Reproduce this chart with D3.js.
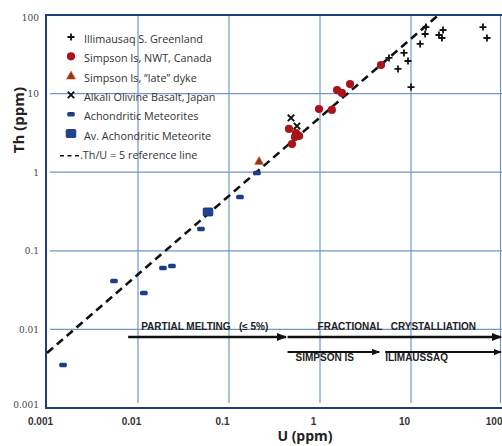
<!DOCTYPE html>
<html>
<head>
<meta charset="utf-8">
<script src="https://cdn.jsdelivr.net/npm/d3@7"></script>
<style>
  body { margin: 0; background: #fff; }
  svg { display: block; }
  .note { white-space: pre; }
</style>
</head>
<body>
<div id="chart"></div>
<script>
// decades on both axes
var ticks = [0.001, 0.01, 0.1, 1, 10, 100];
var tickLabels = ["0.001", "0.01", "0.1", "1", "10", "100"];

// Illimausaq S. Greenland
var ilimU  = [5.73, 7.2, 8.37, 9.27, 10.0, 12.6, 14.3, 14.6, 20.3, 21.9, 22.5, 61.8, 68.4];
var ilimTh = [28.4, 20.6, 32.9, 26.0, 12.1, 42.8, 57.3, 70.3, 55.7, 51.0, 64.4, 70.3, 51.0];
// Simpson Is, NWT, Canada
var simpU  = [0.456, 0.492, 0.531, 0.588, 0.545, 0.975, 1.35, 1.54, 1.74, 2.14, 4.68];
var simpTh = [3.55, 2.28, 2.80, 2.89, 3.15, 6.37, 6.19, 11.1, 10.2, 13.2, 23.1];
// Simpson Is, "late" dyke
var dykeU = [0.214], dykeTh = [1.39];
// Alkali Olivine Basalt, Japan
var basaltU = [0.48, 0.558], basaltTh = [4.90, 3.87];
// Achondritic meteorites
var achU  = [0.0015, 0.00545, 0.0116, 0.0188, 0.0236, 0.0492, 0.132, 0.203];
var achTh = [0.00352, 0.0413, 0.029, 0.0604, 0.064, 0.189, 0.483, 0.977];
// Av. achondritic meteorite
var avU = [0.0588], avTh = [0.312];
// reference line Th/U = 5
var refU = [0.001, 20];
var refRatio = 5;

// process arrows: [label, U from, U to, Th level, label above?]
var arrows = [
  ["PARTIAL MELTING   (\u2264 5%)", 0.0078, 0.434, 0.008, true],
  ["FRACTIONAL   CRYSTALLIATION", 0.44, 100, 0.008, true],
  ["SIMPSON IS", 0.44, 4.6, 0.00515, false],
  ["ILIMAUSSAQ", 5.2, 100, 0.00515, false]
];

var legendLabels = ["Illimausaq S. Greenland", "Simpson Is, NWT, Canada", "Simpson Is, \u201Clate\u201D dyke",
  "Alkali Olivine Basalt, Japan", "Achondritic Meteorites", "Av. Achondritic Meteorite", ".Th/U = 5 reference line"];
var legendKinds = ["plus", "circle", "tri", "x", "rect", "square", "dash"];

var width = 502, height = 446;
var gridColor = "#7396c4", frameColor = "#203f78";

var svg = d3.select("#chart").append("svg")
  .attr("width", width).attr("height", height);

var x = d3.scaleLog().domain([0.001, 100]).range([47, 502]);
var y = d3.scaleLog().domain([0.001, 100]).range([408, 15]);

svg.append("defs").append("marker")
  .attr("id", "head").attr("viewBox", "0 0 10 10")
  .attr("refX", 9).attr("refY", 5)
  .attr("markerWidth", 4).attr("markerHeight", 4)
  .attr("orient", "auto")
  .append("path").attr("d", "M0,1L10,5L0,9Z").attr("fill", "#111");

// grid
svg.append("g").selectAll("line").data(ticks.slice(1, 5))
  .enter().append("line")
  .attr("x1", 50).attr("x2", 502)
  .attr("y1", d => y(d)).attr("y2", d => y(d))
  .attr("stroke", gridColor).attr("stroke-width", 1.2);
svg.append("g").selectAll("line").data(ticks.slice(1))
  .enter().append("line")
  .attr("x1", d => Math.min(x(d), 500.5)).attr("x2", d => Math.min(x(d), 500.5))
  .attr("y1", 15).attr("y2", 403)
  .attr("stroke", gridColor).attr("stroke-width", 1.2);

// frame
svg.append("path")
  .attr("d", "M502,15H46V408H502")
  .attr("fill", "none").attr("stroke", frameColor).attr("stroke-width", 2);

// tick labels
var xAxis = svg.append("g")
  .attr("transform", "translate(0,415)")
  .call(d3.axisBottom(x).tickValues(ticks).tickSize(0).tickFormat((d, i) => tickLabels[i]));
xAxis.select(".domain").remove();
xAxis.selectAll("text")
  .attr("dx", (d, i) => i == 5 ? 0 : -7)
  .attr("text-anchor", (d, i) => i == 5 ? "end" : "middle")
  .attr("font-family", "Liberation Sans, Arial, sans-serif")
  .attr("font-weight", "bold").attr("font-size", 10).attr("fill", "#333");

var yAxis = svg.append("g")
  .attr("transform", "translate(42,0)")
  .call(d3.axisLeft(y).tickValues(ticks).tickSize(0).tickFormat((d, i) => tickLabels[i]));
yAxis.select(".domain").remove();
yAxis.selectAll("text")
  .attr("dy", (d, i) => i == 0 ? "-0.1em" : (i == 5 ? "0.6em" : "0.32em"))
  .attr("font-family", "DejaVu Serif, serif")
  .attr("font-size", 9).attr("fill", "#444");

// axis titles
svg.append("text").attr("x", 305).attr("y", 441)
  .attr("text-anchor", "middle")
  .attr("font-family", "Open Sans, sans-serif").attr("font-weight", "bold")
  .attr("font-size", 14).attr("fill", "#222").text("U (ppm)");
svg.append("text")
  .attr("transform", "translate(24,120) rotate(-90)")
  .attr("text-anchor", "middle")
  .attr("font-family", "Open Sans, sans-serif").attr("font-weight", "bold")
  .attr("font-size", 15).attr("fill", "#222").text("Th (ppm)");

// reference line
svg.append("line")
  .attr("x1", x(refU[0])).attr("y1", y(refU[0] * refRatio))
  .attr("x2", x(refU[1])).attr("y2", y(refU[1] * refRatio))
  .attr("stroke", "#111").attr("stroke-width", 2.6)
  .attr("stroke-dasharray", "8,5");

// arrows
var arrowG = svg.append("g");
arrows.forEach(function (a) {
  arrowG.append("line")
    .attr("x1", x(a[1])).attr("x2", x(a[2]) - 1)
    .attr("y1", y(a[3])).attr("y2", y(a[3]))
    .attr("stroke", "#111").attr("stroke-width", a[4] ? 2.6 : 2)
    .attr("marker-end", "url(#head)");
});
arrowG.selectAll("text").data(arrows).enter().append("text")
  .attr("class", "note")
  .attr("x", d => x(d[1]) + (d[4] ? (d[1] < 0.1 ? 13 : 30) : (d[1] < 1 ? 8 : 0)))
  .attr("y", d => y(d[3]) + (d[4] ? -7 : 9))
  .attr("font-family", "Liberation Sans Narrow, Liberation Sans, sans-serif")
  .attr("font-weight", "bold").attr("font-size", 10)
  .attr("fill", "#222")
  .text(d => d[0]);

// marker shapes
function shape(g, kind) {
  if (kind == "plus") {
    g.append("path").attr("d", "M-3.5,0H3.5M0,-3.5V3.5")
      .attr("stroke", "#111").attr("stroke-width", 1.8).attr("fill", "none");
  } else if (kind == "x") {
    g.append("path").attr("d", "M-3.2,-3.2L3.2,3.2M3.2,-3.2L-3.2,3.2")
      .attr("stroke", "#111").attr("stroke-width", 1.9).attr("fill", "none");
  } else if (kind == "circle") {
    g.append("circle").attr("r", 4.1).attr("fill", "#a8141a");
  } else if (kind == "tri") {
    g.append("path").attr("d", "M0,-4.5L4.5,3.5H-4.5Z")
      .attr("fill", "#9a3412").attr("stroke", "#c8663a").attr("stroke-width", 0.6);
  } else if (kind == "rect") {
    g.append("rect").attr("x", -3.8).attr("y", -2.3).attr("width", 7.6).attr("height", 4.6)
      .attr("rx", 1.5).attr("fill", "#1b3f84");
  } else if (kind == "square") {
    g.append("rect").attr("x", -4.8).attr("y", -4).attr("width", 9.6).attr("height", 8)
      .attr("rx", 1).attr("fill", "#1d4597").attr("stroke", "#11265a").attr("stroke-width", 0.8);
  } else if (kind == "dash") {
    g.append("line").attr("x1", -10).attr("x2", 10)
      .attr("stroke", "#111").attr("stroke-width", 1.6).attr("stroke-dasharray", "4,3.5");
  }
}

function plotSeries(us, ths, kind) {
  var g = svg.append("g");
  us.forEach(function (u, i) {
    var p = g.append("g").attr("transform", "translate(" + x(u) + "," + y(ths[i]) + ")");
    shape(p, kind);
  });
}

plotSeries(achU, achTh, "rect");
plotSeries(avU, avTh, "square");
plotSeries(dykeU, dykeTh, "tri");
plotSeries(simpU, simpTh, "circle");
plotSeries(basaltU, basaltTh, "x");
plotSeries(ilimU, ilimTh, "plus");

// legend
var legend = svg.append("g");
legendLabels.forEach(function (lab, i) {
  var ly = 39 + i * 19.3;
  var s = legend.append("g").attr("transform", "translate(" + (i == 6 ? 70 : 71) + "," + (i == 6 ? ly + 1 : ly - 2) + ")");
  shape(s, legendKinds[i]);
  legend.append("text")
    .attr("x", i == 6 ? 80 : 84).attr("y", ly + 4)
    .attr("font-family", "Open Sans, sans-serif")
    .attr("font-size", 10.8).attr("fill", "#333")
    .text(lab);
});
</script>
</body>
</html>
